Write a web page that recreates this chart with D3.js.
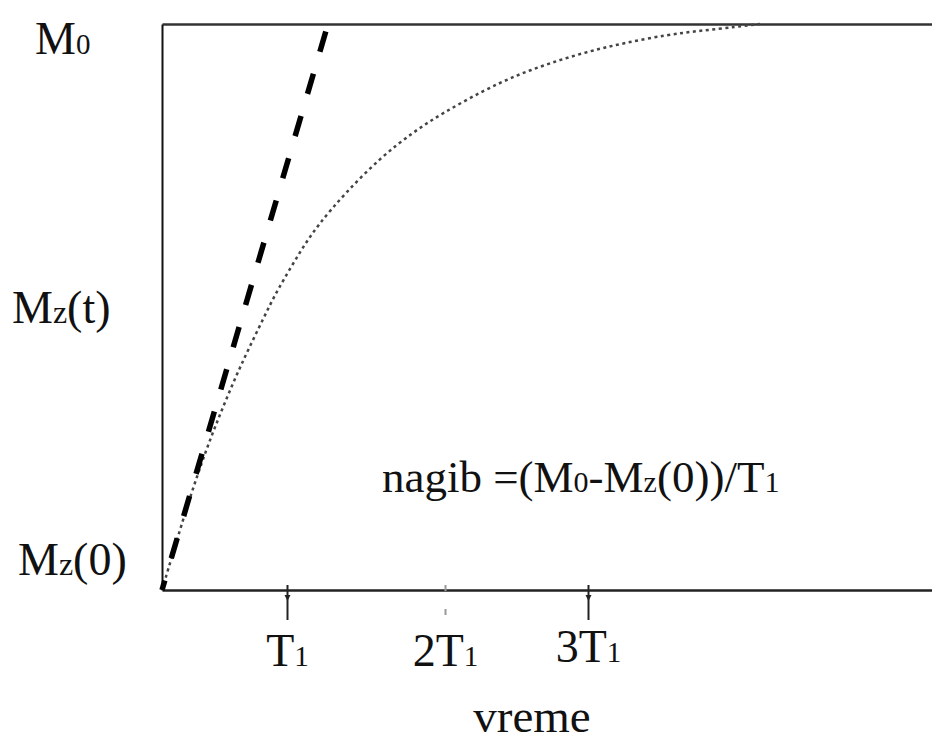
<!DOCTYPE html>
<html><head><meta charset="utf-8">
<script src="https://cdn.jsdelivr.net/npm/d3@7"></script>
<style>
html,body{margin:0;padding:0;background:#fff;}
svg{display:block;}
text{font-family:"Liberation Serif","Times New Roman",serif;fill:#111;}
</style></head><body>
<svg id="chart" width="932" height="744"></svg>
<script>
// time in units of the T1 tick, magnetisation as a fraction of M0
const curveT = [0, 0.096, 0.216, 0.352, 0.456, 0.568, 0.688, 0.856, 0.912, 1.112, 1.248, 1.464, 1.744, 2.008, 2.248, 2.568, 2.84, 3.104, 3.40, 3.688, 4.04, 4.304, 4.6, 4.784];
const curveM = [0, 0.071, 0.159, 0.247, 0.306, 0.366, 0.424, 0.500, 0.525, 0.601, 0.645, 0.701, 0.763, 0.809, 0.843, 0.882, 0.910, 0.931, 0.951, 0.966, 0.981, 0.988, 0.995, 1.0];
const tangentT = [0, 1.328];
const tangentM = [0, 1];
const tickValues = [1, 2.264, 3.408];
const tickLabels = [["T", "1"], ["2T", "1"], ["3T", "1"]];
const yLabelValues = [1, 0.5, 0];
const yLabels = [["M", "0", ""], ["M", "z", "(t)"], ["M", "z", "(0)"]];
const xTitle = "vreme";
const annotationParts = [["nagib =(", false], ["M", false], ["0", true], ["-M", false], ["z", true], ["(0))/T", false], ["1", true]];

const svg = d3.select("#chart");
const x = d3.scaleLinear().domain([0, 6.16]).range([162, 932]);
const y = d3.scaleLinear().domain([0, 1]).range([590, 24]);
const FS = 46, SUB = 29;

// frame: top line, left line
svg.append("g").attr("transform", `translate(0,${y(1)})`)
  .call(d3.axisTop(x).tickValues([]).tickSizeOuter(0))
  .call(g => g.select(".domain").attr("stroke", "#333").attr("stroke-width", 2.5));
svg.append("g").attr("transform", `translate(${x(0)},0)`)
  .call(d3.axisLeft(y).tickValues([]).tickSizeOuter(0))
  .call(g => g.select(".domain").attr("stroke", "#111").attr("stroke-width", 2));

// bottom axis
const xAxis = svg.append("g").attr("transform", `translate(0,${y(0)})`)
  .call(d3.axisBottom(x).tickValues(tickValues).tickSize(30).tickSizeOuter(0).tickFormat(""));
xAxis.select(".domain").attr("stroke", "#222").attr("stroke-width", 2.5);
xAxis.selectAll(".tick line")
  .attr("y1", -5)
  .attr("stroke", (d, i) => i === 1 ? "#999" : "#222")
  .attr("stroke-width", 2)
  .attr("stroke-dasharray", (d, i) => i === 1 ? "6,18" : null);
xAxis.selectAll(".tick").filter((d, i) => i !== 1).append("path")
  .attr("d", "M-3,3 L3,3 L0,9 Z").attr("transform", "translate(0,2)").attr("fill", "#222");
xAxis.selectAll(".tick").append("text")
  .attr("y", (d, i) => i === 2 ? 72 : 76)
  .attr("text-anchor", "middle")
  .attr("font-size", FS)
  .each(function (d, i) {
    const t = d3.select(this);
    t.append("tspan").text(tickLabels[i][0]);
    t.append("tspan").attr("font-size", SUB).text(tickLabels[i][1]);
  });

// y labels
const yOff = [30, 16, -15];
const xPos = [35, 12, 18];
yLabelValues.forEach((v, i) => {
  const t = svg.append("text").attr("x", xPos[i]).attr("y", y(v) + yOff[i]).attr("font-size", FS);
  t.append("tspan").text(yLabels[i][0]);
  t.append("tspan").attr("font-size", i === 0 ? SUB : 32).text(yLabels[i][1]);
  if (yLabels[i][2]) t.append("tspan").text(yLabels[i][2]);
});

// x title
svg.append("text").attr("x", 532).attr("y", 732).attr("text-anchor", "middle")
  .attr("font-size", 47).text(xTitle);

// annotation
const ann = svg.append("text").attr("x", 382).attr("y", 492).attr("font-size", 45);
annotationParts.forEach(([s, sub]) => {
  ann.append("tspan").attr("font-size", sub ? 30 : 45).text(s);
});

// curves
const line = d3.line().x(d => x(d[0])).y(d => y(d[1])).curve(d3.curveBasis);
svg.append("path")
  .datum(curveT.map((t, i) => [t, curveM[i]]))
  .attr("d", line)
  .attr("fill", "none")
  .attr("stroke", "#444")
  .attr("stroke-width", 2.5)
  .attr("stroke-dasharray", "3,3.5");
svg.append("path")
  .datum(tangentT.map((t, i) => [t, tangentM[i]]))
  .attr("d", d3.line().x(d => x(d[0])).y(d => y(d[1])))
  .attr("fill", "none")
  .attr("stroke", "#000")
  .attr("stroke-width", 5.5)
  .attr("stroke-dasharray", "21,23")
  .attr("stroke-dashoffset", 11);
</script>
</body></html>
